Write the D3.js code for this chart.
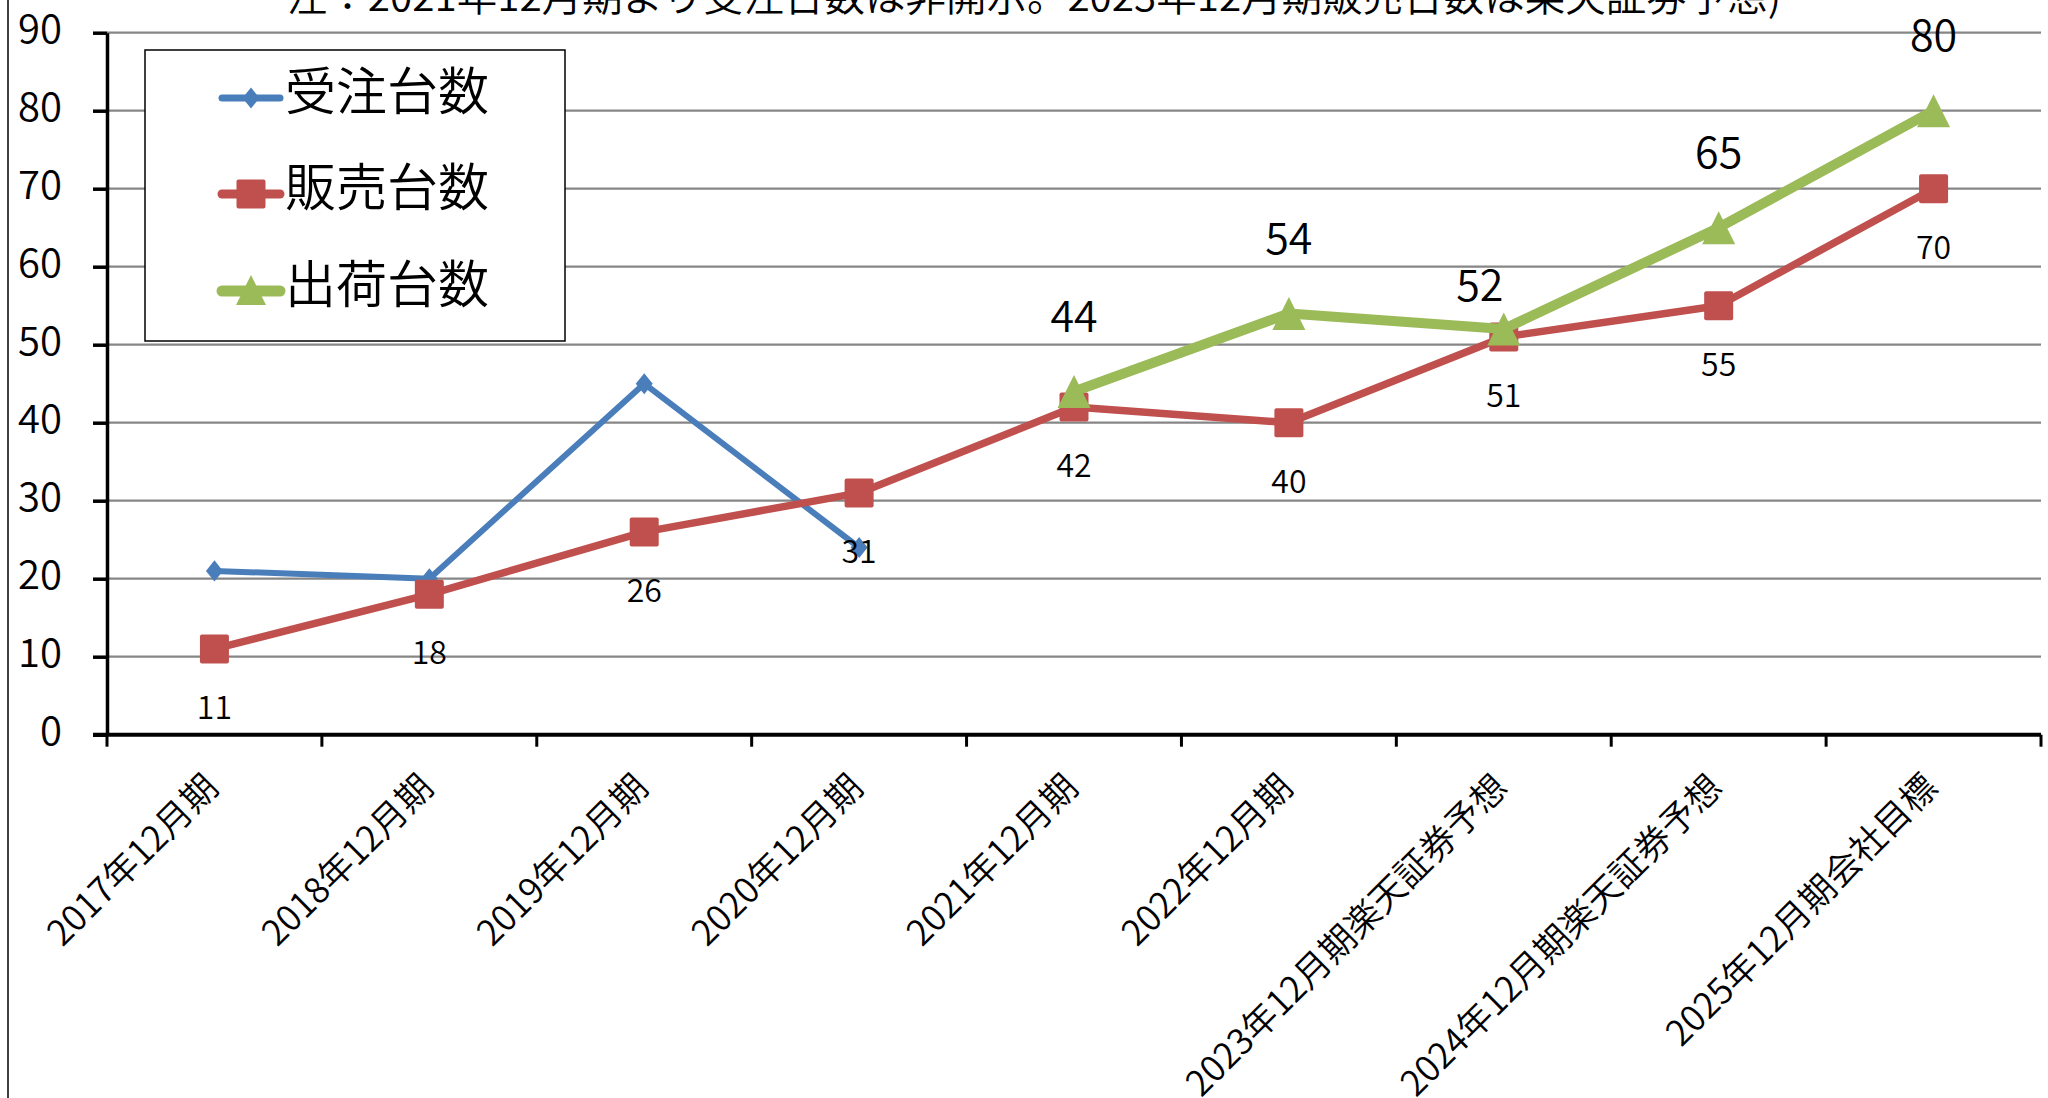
<!DOCTYPE html>
<html>
<head>
<meta charset="utf-8">
<script src="https://cdn.jsdelivr.net/npm/d3@7"></script>
<style>
  html, body { margin: 0; padding: 0; background: #fff; }
  svg { display: block; font-family: "Noto Sans CJK JP", "Noto Sans", sans-serif; }
</style>
</head>
<body>
<svg id="chart" width="2048" height="1098"></svg>
<script>
const categories = ["2017年12月期", "2018年12月期", "2019年12月期", "2020年12月期", "2021年12月期",
  "2022年12月期", "2023年12月期楽天証券予想", "2024年12月期楽天証券予想", "2025年12月期会社目標"];
const ordersValues = [21, 20, 45, 24, null, null, null, null, null];     // 受注台数
const salesValues = [11, 18, 26, 31, 42, 40, 51, 55, 70];               // 販売台数
const shipmentValues = [null, null, null, null, 44, 54, 52, 65, 80];    // 出荷台数
const yTickValues = [0, 10, 20, 30, 40, 50, 60, 70, 80, 90];
const seriesNames = ["受注台数", "販売台数", "出荷台数"];
const noteText = "注：2021年12月期より受注台数は非開示。2023年12月期販売台数は楽天証券予想)";

const colors = { orders: "#4A7EBB", sales: "#C0504D", ship: "#9BBB59" };
const FW = 350;

const svg = d3.select("#chart");
const plotLeft = 107, plotRight = 2041, plotTop = 32.7, plotBottom = 734.7;

const x = d3.scaleBand().domain(categories).range([plotLeft, plotRight]).padding(0);
const y = d3.scaleLinear().domain([0, 90]).range([plotBottom, plotTop]);
const cx = c => x(c) + x.bandwidth() / 2;

// left border line
svg.append("line").attr("x1", 8).attr("x2", 8).attr("y1", 0).attr("y2", 1098)
  .attr("stroke", "#000").attr("stroke-width", 1.5);

// note text (partially clipped at top, as in the reference)
svg.append("text").attr("x", 1034).attr("y", 11).attr("text-anchor", "middle")
  .attr("font-size", 40.5).attr("font-weight", FW).attr("fill", "#000").text(noteText);

// gridlines
svg.append("g").selectAll("line").data(yTickValues.filter(v => v > 0)).join("line")
  .attr("x1", plotLeft).attr("x2", plotRight)
  .attr("y1", d => y(d)).attr("y2", d => y(d))
  .attr("stroke", "#868686").attr("stroke-width", 2.2);

// y axis
const yAxis = svg.append("g").attr("transform", `translate(${plotLeft},0)`)
  .call(d3.axisLeft(y).tickValues(yTickValues).tickSize(14).tickSizeOuter(0).tickPadding(0));
yAxis.select(".domain").attr("stroke", "#000").attr("stroke-width", 3.5);
yAxis.selectAll(".tick line").attr("stroke", "#000").attr("stroke-width", 3.5);
yAxis.selectAll(".tick text").attr("x", -45).attr("dy", null).attr("y", -7)
  .attr("dominant-baseline", "central").attr("font-size", 40).attr("font-weight", FW).attr("fill", "#000")
  .attr("font-family", "'Noto Sans CJK JP', sans-serif");

// x axis: line + boundary ticks
const xAxisG = svg.append("g");
xAxisG.append("line").attr("x1", plotLeft - 14).attr("x2", plotRight)
  .attr("y1", plotBottom).attr("y2", plotBottom).attr("stroke", "#000").attr("stroke-width", 4);
const boundaries = categories.map(c => x(c)).concat([x.range()[1]]);
xAxisG.selectAll("line.tk").data(boundaries).join("line").attr("class", "tk")
  .attr("x1", d => d).attr("x2", d => d).attr("y1", plotBottom).attr("y2", plotBottom + 12)
  .attr("stroke", "#000").attr("stroke-width", 3);
xAxisG.selectAll("text").data(categories).join("text")
  .attr("transform", d => `translate(${cx(d) + 6},${plotBottom + 55}) rotate(-45)`)
  .attr("text-anchor", "end").attr("font-size", 35.5).attr("font-weight", FW).attr("fill", "#000").text(d => d);

// line generator
const lineGen = d3.line().defined(d => d.v != null).x(d => cx(d.c)).y(d => y(d.v));
const toPts = arr => categories.map((c, i) => ({ c, v: arr[i] }));

const ordersPts = toPts(ordersValues), salesPts = toPts(salesValues), shipPts = toPts(shipmentValues);

const diamond = (s) => `M0,${-s * 0.62}L${s * 0.5},0L0,${s * 0.62}L${-s * 0.5},0Z`;
const triangle = (w) => `M0,${-w / 2}L${w / 2},${w / 2}L${-w / 2},${w / 2}Z`;

// orders (blue)
svg.append("path").datum(ordersPts).attr("d", lineGen).attr("fill", "none")
  .attr("stroke", colors.orders).attr("stroke-width", 6).attr("stroke-linejoin", "round");
svg.append("g").selectAll("path").data(ordersPts.filter(d => d.v != null)).join("path")
  .attr("transform", d => `translate(${cx(d.c)},${y(d.v)})`).attr("d", diamond(17)).attr("fill", colors.orders);

// sales (red)
svg.append("path").datum(salesPts).attr("d", lineGen).attr("fill", "none")
  .attr("stroke", colors.sales).attr("stroke-width", 7.5).attr("stroke-linejoin", "round");
svg.append("g").selectAll("rect").data(salesPts).join("rect")
  .attr("x", d => cx(d.c) - 14.5).attr("y", d => y(d.v) - 14.5).attr("width", 29).attr("height", 29)
  .attr("rx", 2).attr("fill", colors.sales);

// shipments (green)
svg.append("path").datum(shipPts).attr("d", lineGen).attr("fill", "none")
  .attr("stroke", colors.ship).attr("stroke-width", 10).attr("stroke-linejoin", "round");
svg.append("g").selectAll("path").data(shipPts.filter(d => d.v != null)).join("path")
  .attr("transform", d => `translate(${cx(d.c)},${y(d.v)})`).attr("d", triangle(33)).attr("fill", colors.ship);

// data labels
svg.append("g").selectAll("text").data(salesPts).join("text")
  .attr("x", d => cx(d.c)).attr("y", d => y(d.v) + 56).attr("dominant-baseline", "central")
  .attr("text-anchor", "middle").attr("font-size", 32).attr("font-weight", FW).attr("fill", "#000").text(d => d.v);
// the label of the 2023 shipment point sits nudged (left and lower) in the reference
const nudgedIdx = 6;
svg.append("g").selectAll("text").data(shipPts.filter(d => d.v != null)).join("text")
  .attr("x", d => cx(d.c) + (categories.indexOf(d.c) === nudgedIdx ? -24 : 0))
  .attr("y", d => y(d.v) + (categories.indexOf(d.c) === nudgedIdx ? -47 : -79))
  .attr("dominant-baseline", "central")
  .attr("text-anchor", "middle").attr("font-size", 43).attr("font-weight", FW).attr("fill", "#000").text(d => d.v);

// legend
const legend = svg.append("g");
legend.append("rect").attr("x", 145).attr("y", 50).attr("width", 420).attr("height", 291)
  .attr("fill", "#fff").attr("stroke", "#000").attr("stroke-width", 1.5);
const rows = [
  { name: seriesNames[0], color: colors.orders, y: 98, sw: 7, marker: "diamond" },
  { name: seriesNames[1], color: colors.sales, y: 194, sw: 9, marker: "square" },
  { name: seriesNames[2], color: colors.ship, y: 291, sw: 11, marker: "triangle" }
];
rows.forEach(r => {
  legend.append("line").attr("x1", 222).attr("x2", 280).attr("y1", r.y).attr("y2", r.y)
    .attr("stroke", r.color).attr("stroke-width", r.sw).attr("stroke-linecap", "round");
  if (r.marker === "diamond") {
    legend.append("path").attr("transform", `translate(251,${r.y})`).attr("d", diamond(17)).attr("fill", r.color);
  } else if (r.marker === "square") {
    legend.append("rect").attr("x", 251 - 14.5).attr("y", r.y - 14.5).attr("width", 29).attr("height", 29)
      .attr("rx", 2).attr("fill", r.color);
  } else {
    legend.append("path").attr("transform", `translate(251,${r.y - 1})`).attr("d", triangle(30)).attr("fill", r.color);
  }
  legend.append("text").attr("x", 285).attr("y", r.y - 10).attr("dominant-baseline", "central")
    .attr("font-size", 51).attr("font-weight", FW).attr("fill", "#000").text(r.name);
});
</script>
</body>
</html>
